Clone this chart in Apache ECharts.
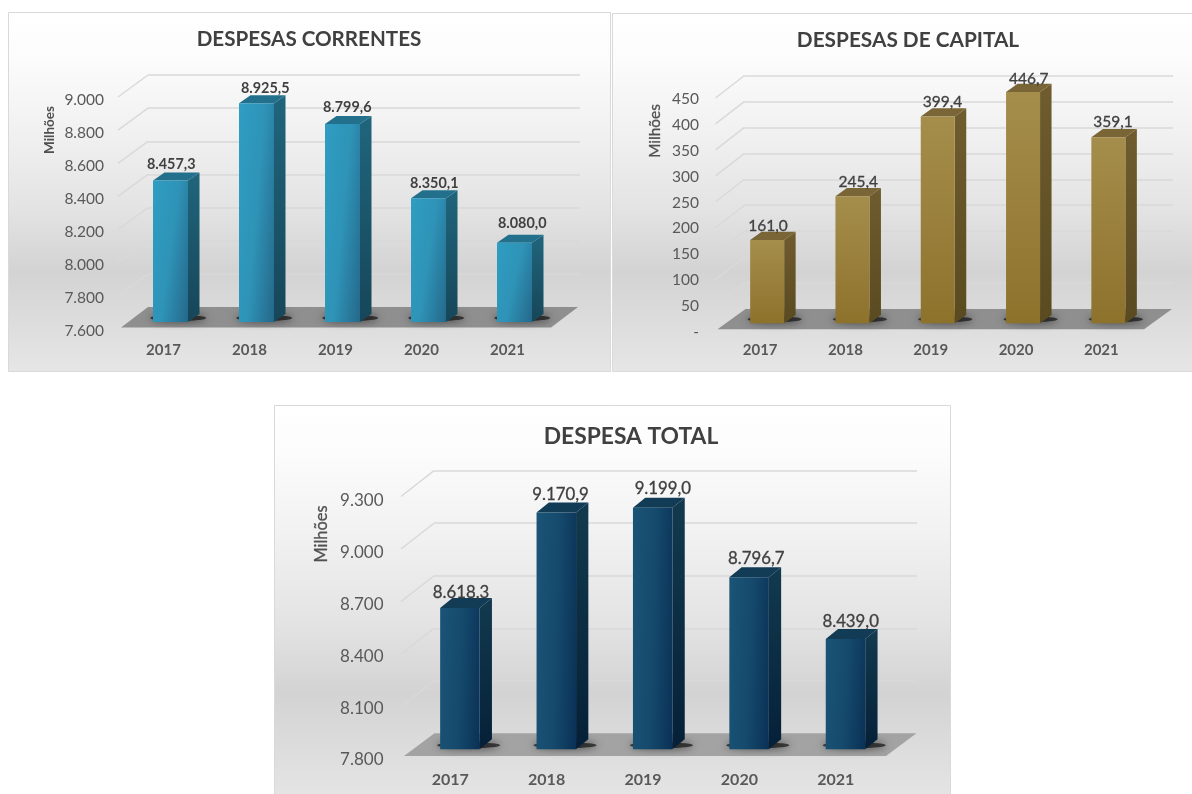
<!DOCTYPE html>
<html lang="pt">
<head>
<meta charset="utf-8">
<title>Despesas</title>
<style>html,body{margin:0;padding:0;background:#fff}#chart{width:1192px;height:794px}</style>
<script src="https://cdn.jsdelivr.net/npm/echarts@6/dist/echarts.min.js"></script>
</head>
<body>
<div id="chart"></div>
<script>
// Valores em milhões, por ano
const categories = ['2017', '2018', '2019', '2020', '2021'];
const despesasCorrentes = [8457.3, 8925.5, 8799.6, 8350.1, 8080.0];
const despesasCapital = [161.0, 245.4, 399.4, 446.7, 359.1];
const despesaTotal = [8618.3, 9170.9, 9199.0, 8796.7, 8439.0];
const ticksCorrentes = [7600, 7800, 8000, 8200, 8400, 8600, 8800, 9000];
const ticksCapital = [0, 50, 100, 150, 200, 250, 300, 350, 400, 450];
const ticksTotal = [7800, 8100, 8400, 8700, 9000, 9300];

// Geometria e aparência de cada painel
const panels = [
  {
    title: 'DESPESAS CORRENTES', values: despesasCorrentes, ticks: ticksCorrentes,
    box: [8, 12, 603, 360], titleAt: [304, 24], titleSize: 20.6,
    unitAt: [50, 130], unitSize: 13.5, unitWeight: 'bold', unitStroke: 0,
    front: { left: 121, top: 100, width: 430, height: 231 },
    back: { left: 148, top: 75, width: 432, height: 232 },
    floor: { oy: -3.5, dx: 27, dy: -20.5, color: '#8f8f8f' },
    diag: [-30, 22],
    bar: { width: 35, ox: 6.5, oy: -9, dx: 11.5, dy: 8 },
    axisSize: 15.5, axisMargin: 17, catSize: 15, catMargin: 12, catPad: 1,
    labelSize: 14.4, labelWeight: 'bold', labelStroke: 0,
    labelNudge: [-5, 3, -1, 0, 2], labelRise: [8, 7, 9, 7, 11],
    colors: {
      front: [[0, '#2f9dc2'], [0.5, '#2e93b7'], [1, '#25688a']], frontMix: [0.65, 0.35],
      side: ['#20657c', '#164659'], top: '#22708c'
    }
  },
  {
    title: 'DESPESAS DE CAPITAL', values: despesasCapital, ticks: ticksCapital,
    box: [612, 13, 590, 359], titleAt: [903, 25], titleSize: 20.8,
    unitAt: [655, 131], unitSize: 15.4, unitWeight: 'normal', unitStroke: 0.3,
    front: { left: 717.5, top: 99, width: 426.5, height: 233 },
    back: { left: 744.5, top: 75.5, width: 428.5, height: 233.5 },
    floor: { oy: -2.7, dx: 28, dy: -20.3, color: '#8f8f8f' },
    diag: [-29, 22.5],
    bar: { width: 34, ox: 7, oy: -8.7, dx: 11.5, dy: 8.3 },
    axisSize: 15.5, axisMargin: 18.5, catSize: 15, catMargin: 11, catPad: 0,
    labelSize: 15.5, labelWeight: 'normal', labelStroke: 0.3,
    labelNudge: [-5, 0, -1, 0, -1], labelRise: [6, 6, 6, 5, 7],
    colors: {
      front: [[0, '#a58d4b'], [1, '#8d722c']], frontMix: [0, 1],
      side: ['#6f5c2f', '#5a4a20'], top: '#7a6536'
    }
  },
  {
    title: 'DESPESA TOTAL', values: despesaTotal, ticks: ticksTotal,
    box: [274, 405, 677, 400], titleAt: [626, 420], titleSize: 22.8,
    unitAt: [322, 534], unitSize: 16.4, unitWeight: 'normal', unitStroke: 0.3,
    front: { left: 404, top: 501, width: 482, height: 259 },
    back: { left: 434, top: 470.7, width: 483, height: 262.6 },
    floor: { oy: -4, dx: 30.5, dy: -22.7, color: '#a3a3a3' },
    diag: [-33, 25.8],
    bar: { width: 39.5, ox: 7.7, oy: -10.7, dx: 12.3, dy: 10 },
    axisSize: 17, axisMargin: 20.5, catSize: 16, catMargin: 12, catPad: 4,
    labelSize: 16.8, labelWeight: 'normal', labelStroke: 0.3,
    labelNudge: [-5, -2, 4, 1, -1], labelRise: [5, 8, 9, 9, 7],
    colors: {
      front: [[0, '#1a5476'], [0.5, '#154a6d'], [1, '#0a3155']], frontMix: [0.85, 0.15],
      side: ['#123a4e', '#052038'], top: '#123b55'
    }
  }
];

const FONT = 'Lato';
const { LinearGradient } = echarts.graphic;

// Formato numérico pt-BR: 8.457,3 no rótulo e 9.000 no eixo
function thousands(n) {
  return String(n).replace(/\B(?=(\d{3})+(?!\d))/g, '.');
}
function decimalLabel(v) {
  const [whole, frac] = v.toFixed(1).split('.');
  return thousands(whole) + ',' + frac;
}

// Gradiente da frente da barra em pixels: mix indica quanto da variação
// acontece na largura e quanto na altura
function frontFill(l, t, w, h, mix, stops) {
  const len2 = 1 / ((mix[0] * mix[0]) / (w * w) + (mix[1] * mix[1]) / (h * h));
  const vx = (mix[0] * len2) / w, vy = (mix[1] * len2) / h;
  return new LinearGradient(l, t, l + vx, t + vy,
    stops.map(([offset, color]) => ({ offset, color })), true);
}

const grid = [], xAxis = [], yAxis = [], series = [], title = [], graphic = [];

panels.forEach((p) => {
  const frontIdx = grid.length, backIdx = frontIdx + 1;
  const lo = p.ticks[0], hi = p.ticks[p.ticks.length - 1];
  const step = p.ticks[1] - p.ticks[0];

  graphic.push({
    type: 'rect', z: -10, silent: true,
    shape: { x: p.box[0] + 0.5, y: p.box[1] + 0.5, width: p.box[2] - 1, height: p.box[3] - 1 },
    style: {
      stroke: '#d9d9d9', lineWidth: 1,
      fill: new LinearGradient(0, 0, 0, 1, [
        { offset: 0, color: '#ffffff' }, { offset: 0.12, color: '#fcfcfc' },
        { offset: 0.33, color: '#f1f1f1' }, { offset: 0.55, color: '#e3e3e3' },
        { offset: 0.72, color: '#d3d3d3' }, { offset: 1, color: '#e6e6e6' }
      ])
    }
  });
  graphic.push({
    type: 'text', silent: true, z: 5, rotation: Math.PI / 2,
    x: p.unitAt[0], y: p.unitAt[1],
    style: {
      text: 'Milhões', fill: '#505050', stroke: '#505050', lineWidth: p.unitStroke,
      font: `${p.unitWeight} ${p.unitSize}px ${FONT}`,
      align: 'center', verticalAlign: 'middle'
    }
  });
  title.push({
    text: p.title, left: p.titleAt[0], top: p.titleAt[1], textAlign: 'center',
    textStyle: { fontFamily: FONT, fontSize: p.titleSize, fontWeight: 'bold', color: '#404040' }
  });

  // Plano frontal: traz os rótulos dos eixos e as barras
  grid.push({ ...p.front, containLabel: false });
  xAxis.push({
    type: 'category', gridIndex: frontIdx, data: categories,
    axisLine: { show: false }, axisTick: { show: false }, splitLine: { show: false },
    axisLabel: {
      fontFamily: FONT, fontSize: p.catSize, fontWeight: 'bold', color: '#595959',
      margin: p.catMargin, padding: [0, p.catPad, 0, 0]
    }
  });
  yAxis.push({
    type: 'value', gridIndex: frontIdx, min: lo, max: hi, interval: step,
    axisLine: { show: false }, axisTick: { show: false }, splitLine: { show: false },
    axisLabel: {
      fontFamily: FONT, fontSize: p.axisSize, color: '#595959', margin: p.axisMargin,
      formatter: (v) => (v === 0 ? '-' : thousands(v))
    }
  });

  // Plano de fundo: traz as linhas de grade
  grid.push({ ...p.back, containLabel: false });
  xAxis.push({
    type: 'category', gridIndex: backIdx, data: categories, show: false
  });
  yAxis.push({
    type: 'value', gridIndex: backIdx, min: lo, max: hi, interval: step,
    axisLine: { show: false }, axisTick: { show: false }, axisLabel: { show: false },
    splitLine: { show: true, lineStyle: { color: '#d9d9d9', width: 1.5 } }
  });

  // Diagonais que ligam o eixo à parede do fundo
  series.push({
    type: 'custom', xAxisIndex: backIdx, yAxisIndex: backIdx, z: 1, silent: true,
    data: p.ticks.slice(1).map((t) => [0, t]),
    encode: { x: 0, y: 1 },
    renderItem(params, api) {
      const y = api.coord([0, api.value(1)])[1];
      const x = params.coordSys.x;
      return {
        type: 'line',
        shape: { x1: x, y1: y, x2: x + p.diag[0], y2: y + p.diag[1] },
        style: { stroke: '#d9d9d9', lineWidth: 1.5 }
      };
    }
  });

  // Piso em perspectiva
  series.push({
    type: 'custom', xAxisIndex: frontIdx, yAxisIndex: frontIdx, z: 2, silent: true,
    data: [[0, lo]],
    encode: { x: 0, y: 1 },
    renderItem(params) {
      const c = params.coordSys, f = p.floor;
      const y = c.y + c.height + f.oy;
      return {
        type: 'polygon',
        shape: {
          points: [
            [c.x, y], [c.x + c.width, y],
            [c.x + c.width + f.dx, y + f.dy], [c.x + f.dx, y + f.dy]
          ]
        },
        style: { fill: f.color }
      };
    }
  });

  // Barras em caixa: sombra, frente, lateral, topo e rótulo de valor
  series.push({
    type: 'custom', name: p.title, xAxisIndex: frontIdx, yAxisIndex: frontIdx, z: 3, silent: true,
    data: p.values.map((v, i) => [i, v]),
    encode: { x: 0, y: 1 },
    renderItem(params, api) {
      const i = api.value(0), b = p.bar;
      const [cx, rawTop] = api.coord([i, api.value(1)]);
      const rawBase = api.coord([i, lo])[1];
      const l = cx + b.ox - b.width / 2, r = l + b.width;
      const t = rawTop + b.oy, base = rawBase + b.oy;
      const col = p.colors;
      return {
        type: 'group',
        children: [
          {
            type: 'ellipse',
            shape: { cx: l + b.width * 0.72, cy: base - 4, rx: b.width * 0.8, ry: 3 },
            style: { fill: 'rgba(20,20,20,0.7)', shadowBlur: 8, shadowColor: '#000' }
          },
          {
            type: 'polygon',
            shape: { points: [[r, t], [r + b.dx, t - b.dy], [r + b.dx, base - b.dy], [r, base]] },
            style: {
              fill: new LinearGradient(0, 0, 0, 1, [
                { offset: 0, color: col.side[0] }, { offset: 1, color: col.side[1] }
              ])
            }
          },
          {
            type: 'polygon',
            shape: { points: [[l, t], [r, t], [r + b.dx, t - b.dy], [l + b.dx, t - b.dy]] },
            style: { fill: col.top }
          },
          {
            type: 'rect',
            shape: { x: l, y: t, width: b.width, height: base - t },
            style: { fill: frontFill(l, t, b.width, base - t, col.frontMix, col.front) }
          },
          {
            type: 'text',
            x: l + (b.width + b.dx) / 2 + p.labelNudge[i],
            y: t - b.dy - p.labelRise[i],
            style: {
              text: decimalLabel(api.value(1)), fill: '#404040',
              stroke: '#404040', lineWidth: p.labelStroke,
              font: `${p.labelWeight} ${p.labelSize}px ${FONT}`,
              align: 'center', verticalAlign: 'middle'
            }
          }
        ]
      };
    }
  });
});

const chart = echarts.init(document.getElementById('chart'), null, { renderer: 'canvas' });
chart.setOption({ animation: false, backgroundColor: '#fff', title, grid, xAxis, yAxis, series, graphic });
</script>
</body>
</html>
